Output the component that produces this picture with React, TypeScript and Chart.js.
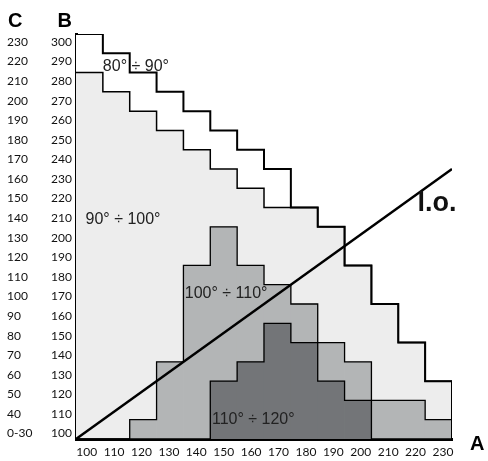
import { useEffect, useRef } from 'react';
import { Chart, registerables } from 'chart.js';

Chart.register(...registerables);

// ---- data ----
const categoriesA = [100, 110, 120, 130, 140, 150, 160, 170, 180, 190, 200, 210, 220, 230];
const rowsB = [100, 110, 120, 130, 140, 150, 160, 170, 180, 190, 200, 210, 220, 230, 240, 250, 260, 270, 280, 290, 300];
const labelsC = ['0-30', '40', '50', '60', '70', '80', '90', '100', '110', '120', '130', '140', '150', '160', '170', '180', '190', '200', '210', '220', '230'];

// highest B row of each zone, per A column (null = zone absent in that column)
const top80to90: (number | null)[] = [300, 290, 280, 270, 260, 250, 240, 230, 210, 200, 180, 160, 140, 120];
const top90to100: (number | null)[] = [280, 270, 260, 250, 240, 230, 220, 210, 210, 200, 180, 160, 140, 120];
const top100to110: (number | null)[] = [null, null, 100, 130, 180, 200, 180, 170, 160, 140, 130, 110, 110, 100];
const top110to120: (number | null)[] = [null, null, null, null, null, 120, 130, 150, 140, 120, 110, null, null, null];

const loLineA = [95, 235];
const loLineB = [95, 235];

const zoneNames = ['80° ÷ 90°', '90° ÷ 100°', '100° ÷ 110°', '110° ÷ 120°'];
const loName = 'l.o.';

// ---- helpers ----
const HALF = 5;
const BASE = rowsB[0] - HALF;
const X_MIN = categoriesA[0] - HALF;
const X_MAX = categoriesA[categoriesA.length - 1] + HALF;
const Y_MAX = rowsB[rowsB.length - 1] + HALF;

const barSet = (tops: (number | null)[], color: string, order: number) => ({
  type: 'bar' as const,
  data: categoriesA
    .map((a, i) => (tops[i] == null ? null : { x: a, y: [BASE, (tops[i] as number) + HALF] }))
    .filter(Boolean) as any[],
  backgroundColor: color,
  borderWidth: 0,
  barPercentage: 1,
  categoryPercentage: 1,
  grouped: false,
  order,
  xAxisID: 'x',
  yAxisID: 'y',
});

const stepSet = (tops: (number | null)[], width: number, order: number) => ({
  type: 'line' as const,
  data: [
    ...categoriesA.map((a, i) => ({ x: a - HALF, y: tops[i] == null ? BASE : (tops[i] as number) + HALF })),
    { x: X_MAX, y: BASE },
  ],
  borderColor: '#000',
  borderWidth: width,
  stepped: true,
  pointRadius: 0,
  fill: false,
  order,
  xAxisID: 'x',
  yAxisID: 'y',
});

const tickFont = { family: 'Lato, "Open Sans", sans-serif', size: 12 };

const textPlugin = {
  id: 'zoneText',
  afterDatasetsDraw(chart: any) {
    const { ctx, scales } = chart;
    const x = scales.x;
    const y = scales.y;
    const at = [
      [117.3, 288.1],
      [112.5, 208.8],
      [150.9, 170.2],
      [161.0, 104.9],
    ];
    ctx.save();
    ctx.fillStyle = '#222';
    ctx.textAlign = 'center';
    ctx.textBaseline = 'middle';
    ctx.font = '16px "Liberation Sans", Arial, sans-serif';
    zoneNames.forEach((t, i) => {
      ctx.fillText(t, x.getPixelForValue(at[i][0]), y.getPixelForValue(at[i][1]));
    });
    ctx.fillStyle = '#111';
    ctx.font = 'bold 27px "Liberation Sans", Arial, sans-serif';
    ctx.fillText(loName, x.getPixelForValue(229.4), y.getPixelForValue(216.9));
    ctx.restore();
  },
  afterDraw(chart: any) {
    const { ctx, chartArea, scales } = chart;
    ctx.save();
    ctx.fillStyle = '#000';
    ctx.font = 'bold 20px "Liberation Sans", Arial, sans-serif';
    ctx.textBaseline = 'alphabetic';
    ctx.textAlign = 'left';
    ctx.fillText('C', scales.yC.left + 1, chartArea.top - 7);
    ctx.textAlign = 'right';
    ctx.fillText('B', scales.yB.right - 4, chartArea.top - 7);
    ctx.textAlign = 'left';
    ctx.fillText('A', chartArea.right + 18, chartArea.bottom + 11);
    ctx.restore();
  },
};

export default function App() {
  const ref = useRef<HTMLCanvasElement | null>(null);

  useEffect(() => {
    if (!ref.current) return;
    const chart = new Chart(ref.current, {
      type: 'bar',
      data: {
        datasets: [
          {
            type: 'line',
            data: loLineA.map((a, i) => ({ x: a, y: loLineB[i] })),
            borderColor: '#000',
            borderWidth: 2.5,
            pointRadius: 0,
            fill: false,
            order: 0,
            xAxisID: 'x',
            yAxisID: 'y',
          } as any,
          stepSet(top80to90, 2, 1),
          stepSet(top90to100, 1.5, 2),
          stepSet(top100to110, 1.3, 3),
          stepSet(top110to120, 1.3, 4),
          barSet(top110to120, '#737578', 5),
          barSet(top100to110, '#b3b5b6', 6),
          barSet(top90to100, '#ededed', 7),
          barSet(top80to90, '#ffffff', 8),
        ] as any,
      },
      plugins: [textPlugin],
      options: {
        responsive: false,
        maintainAspectRatio: false,
        animation: false,
        events: [],
        layout: { padding: { left: 7, top: 34, right: 36, bottom: 0 } },
        plugins: { legend: { display: false }, tooltip: { enabled: false } },
        scales: {
          x: {
            type: 'linear',
            display: false,
            min: X_MIN,
            max: X_MAX,
            offset: false,
            afterBuildTicks: (s: any) => {
              s.ticks = categoriesA.map((v) => ({ value: v }));
            },
          },
          y: {
            type: 'linear',
            display: false,
            min: BASE,
            max: Y_MAX,
            beginAtZero: false,
          },
          xl: {
            type: 'linear',
            position: 'bottom',
            min: 96.1,
            max: 233.3,
            offset: false,
            afterBuildTicks: (s: any) => {
              s.ticks = categoriesA.map((v) => ({ value: v }));
            },
            afterFit: (s: any) => {
              s.height = 22;
            },
            grid: { display: false, drawTicks: false },
            border: { display: true, width: 3, color: '#000' },
            ticks: {
              font: tickFont,
              color: '#111',
              padding: 6,
              maxRotation: 0,
              autoSkip: false,
              callback: (_v: any, i: number) => String(categoriesA[i]),
            },
          },
          yB: {
            type: 'linear',
            position: 'left',
            weight: 0,
            min: 97.19,
            max: 304.1,
            beginAtZero: false,
            afterBuildTicks: (s: any) => {
              s.ticks = rowsB.map((v) => ({ value: v }));
            },
            afterFit: (s: any) => {
              s.width = 38;
            },
            grid: { display: false, drawTicks: false },
            border: { display: true, width: 3, color: '#000' },
            ticks: {
              font: tickFont,
              color: '#111',
              padding: 4,
              autoSkip: false,
              callback: (_v: any, i: number) => String(rowsB[i]),
            },
          },
          yC: {
            type: 'linear',
            position: 'left',
            weight: 1,
            min: 97.19,
            max: 304.1,
            beginAtZero: false,
            afterBuildTicks: (s: any) => {
              s.ticks = rowsB.map((v) => ({ value: v }));
            },
            afterFit: (s: any) => {
              s.width = 31;
            },
            grid: { display: false, drawTicks: false },
            border: { display: false },
            ticks: {
              font: tickFont,
              color: '#111',
              padding: 0,
              crossAlign: 'far',
              autoSkip: false,
              callback: (_v: any, i: number) => labelsC[i],
            },
          },
        } as any,
      },
    });
    return () => chart.destroy();
  }, []);

  return (
    <div style={{ position: 'absolute', left: 0, top: 0, width: 488, height: 461, background: '#fff' }}>
      <canvas ref={ref} width={488} height={461} style={{ display: 'block', width: '488px', height: '461px' }} />
    </div>
  );
}
